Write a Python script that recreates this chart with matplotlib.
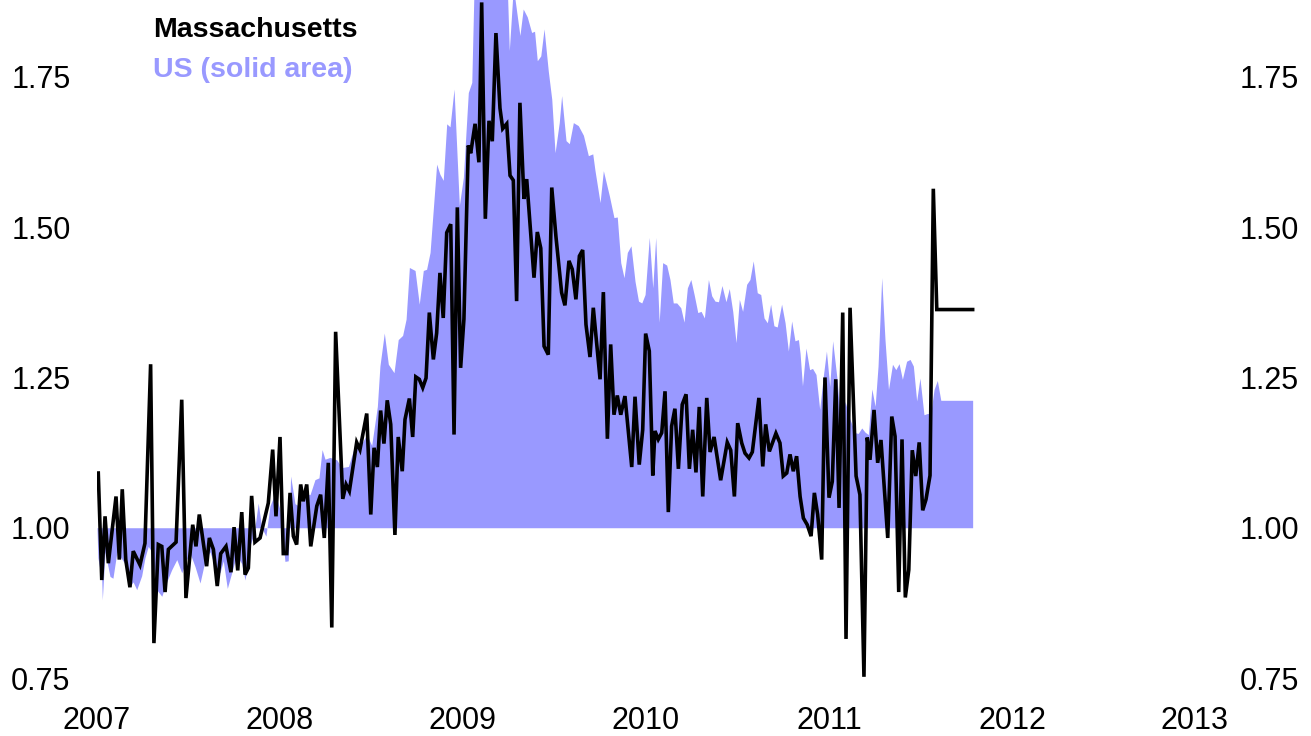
import matplotlib
matplotlib.use("Agg")
import matplotlib.pyplot as plt
from matplotlib import font_manager

# ---------------- data ----------------
ma_dates = [
    2007.007, 2007.026, 2007.044, 2007.062, 2007.104, 2007.122, 2007.138, 2007.157, 2007.180, 2007.198,
    2007.235, 2007.262, 2007.293, 2007.311, 2007.335, 2007.354, 2007.372, 2007.390, 2007.432, 2007.463,
    2007.486, 2007.523, 2007.541, 2007.559, 2007.599, 2007.614, 2007.636, 2007.657, 2007.676, 2007.705,
    2007.732, 2007.749, 2007.769, 2007.791, 2007.809, 2007.827, 2007.845, 2007.863, 2007.891, 2007.936,
    2007.960, 2007.978, 2008.000, 2008.018, 2008.037, 2008.055, 2008.073, 2008.091, 2008.113, 2008.127,
    2008.146, 2008.168, 2008.201, 2008.222, 2008.242, 2008.264, 2008.283, 2008.304, 2008.343, 2008.361,
    2008.379, 2008.419, 2008.437, 2008.474, 2008.496, 2008.514, 2008.532, 2008.550, 2008.568, 2008.586,
    2008.605, 2008.628, 2008.646, 2008.668, 2008.683, 2008.707, 2008.725, 2008.742, 2008.761, 2008.780,
    2008.798, 2008.816, 2008.838, 2008.856, 2008.874, 2008.892, 2008.911, 2008.933, 2008.951, 2008.969,
    2008.987, 2009.005, 2009.029, 2009.042, 2009.066, 2009.087, 2009.102, 2009.122, 2009.142, 2009.160,
    2009.180, 2009.202, 2009.217, 2009.239, 2009.257, 2009.275, 2009.293, 2009.311, 2009.333, 2009.348,
    2009.388, 2009.406, 2009.425, 2009.443, 2009.466, 2009.485, 2009.508, 2009.539, 2009.557, 2009.579,
    2009.597, 2009.617, 2009.636, 2009.654, 2009.672, 2009.694, 2009.712, 2009.749, 2009.767, 2009.789,
    2009.807, 2009.825, 2009.843, 2009.862, 2009.885, 2009.922, 2009.940, 2009.963, 2009.982, 2009.998,
    2010.018, 2010.037, 2010.049, 2010.067, 2010.086, 2010.104, 2010.122, 2010.140, 2010.158, 2010.177,
    2010.198, 2010.219, 2010.237, 2010.255, 2010.273, 2010.291, 2010.310, 2010.332, 2010.350, 2010.372,
    2010.408, 2010.444, 2010.463, 2010.483, 2010.501, 2010.523, 2010.541, 2010.563, 2010.581, 2010.617,
    2010.638, 2010.654, 2010.674, 2010.710, 2010.732, 2010.750, 2010.769, 2010.787, 2010.805, 2010.823,
    2010.842, 2010.860, 2010.881, 2010.902, 2010.920, 2010.938, 2010.960, 2010.978, 2011.000, 2011.018,
    2011.037, 2011.055, 2011.075, 2011.093, 2011.115, 2011.148, 2011.169, 2011.191, 2011.209, 2011.224,
    2011.246, 2011.266, 2011.284, 2011.321, 2011.343, 2011.361, 2011.381, 2011.399, 2011.417, 2011.436,
    2011.455, 2011.474, 2011.493, 2011.512, 2011.530, 2011.552, 2011.570, 2011.589, 2011.785,
]
ma_values = [
    1.091, 0.913, 1.019, 0.941, 1.052, 0.947, 1.064, 0.947, 0.901, 0.961,
    0.938, 0.974, 1.272, 0.808, 0.972, 0.969, 0.893, 0.964, 0.976, 1.213,
    0.883, 1.005, 0.969, 1.022, 0.936, 0.983, 0.964, 0.903, 0.957, 0.969,
    0.926, 1.001, 0.929, 1.026, 0.922, 0.933, 1.053, 0.976, 0.983, 1.041,
    1.130, 1.019, 1.151, 0.957, 0.957, 1.058, 0.986, 0.972, 1.072, 1.044,
    1.072, 0.969, 1.036, 1.055, 0.983, 1.108, 0.834, 1.326, 1.048, 1.072,
    1.061, 1.142, 1.130, 1.190, 1.022, 1.133, 1.101, 1.195, 1.140, 1.212,
    1.172, 0.988, 1.151, 1.094, 1.180, 1.215, 1.151, 1.251, 1.247, 1.233,
    1.249, 1.358, 1.280, 1.324, 1.424, 1.349, 1.491, 1.505, 1.155, 1.533,
    1.266, 1.347, 1.636, 1.623, 1.672, 1.608, 1.874, 1.514, 1.677, 1.643,
    1.823, 1.698, 1.664, 1.672, 1.586, 1.578, 1.377, 1.707, 1.547, 1.580,
    1.416, 1.492, 1.465, 1.302, 1.288, 1.566, 1.484, 1.391, 1.370, 1.444,
    1.430, 1.380, 1.452, 1.462, 1.338, 1.284, 1.366, 1.247, 1.392, 1.148,
    1.305, 1.188, 1.220, 1.188, 1.219, 1.101, 1.218, 1.105, 1.163, 1.323,
    1.294, 1.087, 1.161, 1.147, 1.158, 1.227, 1.026, 1.169, 1.198, 1.098,
    1.205, 1.222, 1.098, 1.163, 1.092, 1.201, 1.052, 1.216, 1.126, 1.151,
    1.079, 1.142, 1.129, 1.052, 1.174, 1.141, 1.124, 1.116, 1.126, 1.216,
    1.102, 1.172, 1.127, 1.157, 1.141, 1.086, 1.091, 1.122, 1.094, 1.119,
    1.052, 1.016, 1.005, 0.986, 1.058, 1.022, 0.947, 1.250, 1.050, 1.077,
    1.247, 1.033, 1.358, 0.815, 1.366, 1.086, 1.055, 0.752, 1.150, 1.113,
    1.196, 1.108, 1.146, 0.983, 1.185, 1.152, 0.893, 1.147, 0.884, 0.930,
    1.129, 1.086, 1.142, 1.029, 1.047, 1.087, 1.564, 1.363, 1.363,
]

us_dates = [
    2007.000, 2007.005, 2007.026, 2007.029, 2007.044, 2007.071, 2007.087, 2007.109, 2007.131, 2007.153,
    2007.180, 2007.197, 2007.217, 2007.244, 2007.262, 2007.280, 2007.299, 2007.326, 2007.354, 2007.381,
    2007.408, 2007.436, 2007.463, 2007.490, 2007.508, 2007.536, 2007.563, 2007.590, 2007.617, 2007.645,
    2007.672, 2007.690, 2007.712, 2007.736, 2007.763, 2007.791, 2007.809, 2007.836, 2007.858, 2007.881,
    2007.900, 2007.923, 2007.945, 2007.973, 2008.000, 2008.027, 2008.045, 2008.058, 2008.082, 2008.109,
    2008.127, 2008.164, 2008.191, 2008.213, 2008.230, 2008.246, 2008.273, 2008.310, 2008.337, 2008.374,
    2008.402, 2008.437, 2008.474, 2008.501, 2008.532, 2008.546, 2008.570, 2008.592, 2008.623, 2008.646,
    2008.670, 2008.689, 2008.707, 2008.738, 2008.761, 2008.783, 2008.801, 2008.820, 2008.856, 2008.874,
    2008.892, 2008.911, 2008.929, 2008.951, 2008.966, 2008.980, 2009.002, 2009.029, 2009.048, 2009.062,
    2009.093, 2009.148, 2009.202, 2009.242, 2009.253, 2009.275, 2009.311, 2009.329, 2009.351, 2009.375,
    2009.391, 2009.406, 2009.425, 2009.443, 2009.466, 2009.485, 2009.503, 2009.526, 2009.539, 2009.563,
    2009.581, 2009.603, 2009.630, 2009.658, 2009.685, 2009.709, 2009.721, 2009.749, 2009.767, 2009.800,
    2009.825, 2009.843, 2009.862, 2009.880, 2009.898, 2009.918, 2009.940, 2009.959, 2009.977, 2009.995,
    2010.018, 2010.037, 2010.053, 2010.072, 2010.091, 2010.113, 2010.131, 2010.149, 2010.168, 2010.190,
    2010.208, 2010.226, 2010.245, 2010.263, 2010.283, 2010.301, 2010.319, 2010.341, 2010.359, 2010.377,
    2010.396, 2010.415, 2010.437, 2010.455, 2010.474, 2010.492, 2010.510, 2010.528, 2010.550, 2010.568,
    2010.586, 2010.608, 2010.627, 2010.645, 2010.663, 2010.681, 2010.699, 2010.717, 2010.741, 2010.760,
    2010.778, 2010.796, 2010.814, 2010.833, 2010.842, 2010.855, 2010.874, 2010.894, 2010.910, 2010.929,
    2010.949, 2010.968, 2010.986, 2011.004, 2011.020, 2011.043, 2011.065, 2011.088, 2011.115, 2011.142,
    2011.160, 2011.179, 2011.197, 2011.215, 2011.234, 2011.252, 2011.268, 2011.288, 2011.306, 2011.325,
    2011.347, 2011.365, 2011.383, 2011.401, 2011.424, 2011.443, 2011.461, 2011.479, 2011.497, 2011.519,
    2011.537, 2011.556, 2011.574, 2011.592, 2011.611, 2011.785,
]
us_values = [
    1.000, 0.950, 0.913, 0.880, 0.960, 0.919, 0.916, 0.960, 0.950, 0.940,
    0.902, 0.910, 0.897, 0.920, 0.950, 0.969, 0.960, 0.897, 0.886, 0.910,
    0.930, 0.947, 0.925, 0.947, 0.958, 0.935, 0.908, 0.945, 0.960, 0.935,
    0.925, 0.945, 0.899, 0.925, 0.955, 0.940, 0.913, 0.970, 0.990, 1.041,
    1.000, 0.986, 1.036, 1.058, 1.030, 0.944, 0.945, 1.086, 1.040, 1.035,
    1.058, 1.055, 1.080, 1.083, 1.130, 1.114, 1.117, 1.113, 1.100, 1.102,
    1.130, 1.135, 1.155, 1.137, 1.202, 1.269, 1.324, 1.272, 1.258, 1.313,
    1.320, 1.347, 1.433, 1.428, 1.372, 1.428, 1.430, 1.458, 1.605, 1.588,
    1.578, 1.672, 1.667, 1.730, 1.630, 1.536, 1.583, 1.724, 1.741, 1.920,
    1.950, 1.930, 1.950, 1.900, 1.794, 1.900, 1.819, 1.863, 1.850, 1.824,
    1.826, 1.777, 1.785, 1.830, 1.760, 1.713, 1.624, 1.674, 1.719, 1.644,
    1.639, 1.674, 1.669, 1.653, 1.619, 1.622, 1.595, 1.541, 1.594, 1.552,
    1.516, 1.517, 1.441, 1.416, 1.458, 1.469, 1.410, 1.377, 1.374, 1.388,
    1.483, 1.399, 1.483, 1.342, 1.441, 1.437, 1.413, 1.374, 1.374, 1.366,
    1.342, 1.399, 1.413, 1.388, 1.358, 1.360, 1.349, 1.413, 1.386, 1.377,
    1.376, 1.403, 1.376, 1.398, 1.360, 1.308, 1.380, 1.360, 1.405, 1.413,
    1.444, 1.391, 1.388, 1.349, 1.341, 1.372, 1.336, 1.334, 1.372, 1.341,
    1.294, 1.344, 1.311, 1.313, 1.290, 1.236, 1.299, 1.263, 1.265, 1.255,
    1.197, 1.250, 1.294, 1.235, 1.311, 1.250, 1.169, 1.210, 1.180, 1.158,
    1.157, 1.166, 1.159, 1.155, 1.231, 1.202, 1.269, 1.416, 1.313, 1.230,
    1.272, 1.263, 1.273, 1.247, 1.277, 1.280, 1.269, 1.211, 1.249, 1.188,
    1.190, 1.190, 1.230, 1.245, 1.212, 1.212,
]

x_ticks = [2007, 2008, 2009, 2010, 2011, 2012, 2013]
y_ticks = [0.75, 1.00, 1.25, 1.50, 1.75]
y_tick_labels = ["0.75", "1.00", "1.25", "1.50", "1.75"]
title_ma = "Massachusetts"
title_us = "US (solid area)"

# ---------------- style ----------------
installed = {f.name for f in font_manager.fontManager.ttflist}
fam = [f for f in ["Liberation Sans Narrow", "Liberation Sans", "DejaVu Sans"] if f in installed]
plt.rcParams["font.family"] = fam

US_COLOR = "#9999ff"

W, H = 1311, 736
fig = plt.figure(figsize=(W / 100, H / 100), dpi=100)
left, right, top, bottom = 97, 1195, 0, 678
ax = fig.add_axes([left / W, 1 - bottom / H, (right - left) / W, (bottom - top) / H])

ax.fill_between(us_dates, 1.0, us_values, color=US_COLOR, linewidth=0)
ax.plot(ma_dates, ma_values, color="black", linewidth=2.6, solid_joinstyle="miter")

ax.set_xlim(2007, 2013)
ax.set_ylim(0.75, 1.878)
ax.set_xticks(x_ticks)
ax.set_xticklabels([str(t) for t in x_ticks])
ax.set_yticks(y_ticks)
ax.set_yticklabels(y_tick_labels)
for s in ax.spines.values():
    s.set_visible(False)
ax.tick_params(axis="both", length=0, labelsize=22)
ax.tick_params(axis="y", pad=19)
ax.tick_params(axis="x", pad=20)

ax2 = ax.twinx()
ax2.set_ylim(0.75, 1.878)
ax2.set_yticks(y_ticks)
ax2.set_yticklabels(y_tick_labels)
for s in ax2.spines.values():
    s.set_visible(False)
ax2.tick_params(axis="y", length=0, labelsize=22, pad=32)

fig.text(153 / W, 1 - 37 / H, title_ma, fontsize=20.5, fontweight="bold", color="black",
         ha="left", va="baseline")
fig.text(153 / W, 1 - 77 / H, title_us, fontsize=20.5, fontweight="bold", color=US_COLOR,
         ha="left", va="baseline")

fig.savefig("out.png", dpi=100)
